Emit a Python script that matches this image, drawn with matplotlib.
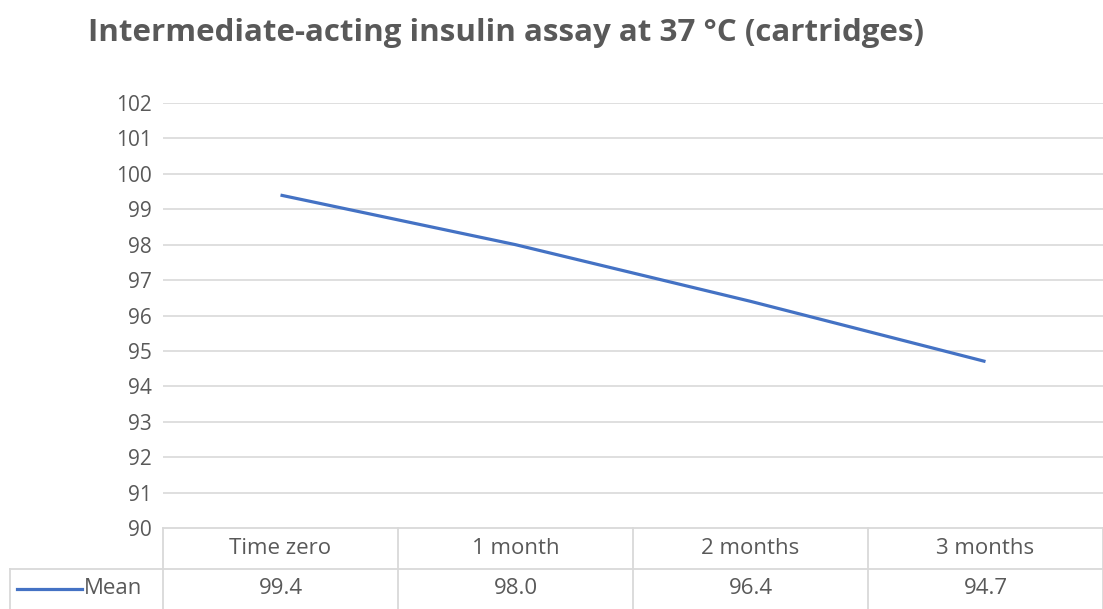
import matplotlib
matplotlib.use("Agg")
from matplotlib import pyplot as plt
from matplotlib.lines import Line2D
from matplotlib.transforms import blended_transform_factory
import numpy as np

plt.rcParams['font.family'] = ['Open Sans', 'DejaVu Sans']

categories = ['Time zero', '1 month', '2 months', '3 months']
mean_values = [99.4, 98.0, 96.4, 94.7]
series_name = 'Mean'
title = 'Intermediate-acting insulin assay at 37 °C (cartridges)'
y_ticks = list(range(90, 103))

txt = '#595959'
grid = '#d9d9d9'
blue = '#4472C4'
fs = 15
fs_tab = 16

W, H = 1103, 609
fig = plt.figure(figsize=(W / 100, H / 100), dpi=100)
ax = fig.add_axes([163 / W, 81 / H, 940 / W, 425 / H])

x = np.arange(len(categories))
ax.plot(x, mean_values, color=blue, lw=2.3, solid_capstyle='butt')
ax.set_xlim(-0.5, len(categories) - 0.5)
ax.set_ylim(90, 102)
ax.set_yticks(y_ticks)
ax.set_yticklabels([str(v) for v in y_ticks], color=txt, fontsize=fs)
ax.tick_params(axis='y', length=0, pad=8)
ax.set_xticks([])
for s in ax.spines.values():
    s.set_visible(False)
for v in y_ticks[1:]:
    ax.axhline(v, color=grid, lw=1.2, zorder=0)

# data table below the axes
ax_h = 425.0
r1 = -41 / ax_h
r2 = -81 / ax_h
tr = blended_transform_factory(ax.transData, ax.transAxes)

def hline(y0, x0, x1):
    ax.add_line(Line2D([x0, x1], [y0, y0], color=grid, lw=1.3,
                       transform=ax.transAxes, clip_on=False))

hline(0, 0, 1)
hline(r1, -153 / 940, 1)
for i in range(len(categories) + 1):
    xb = i - 0.5
    ax.add_line(Line2D([xb, xb], [0, r2], color=grid, lw=1.3,
                       transform=tr, clip_on=False))
ax.add_line(Line2D([-153 / 940, -153 / 940], [r1, r2], color=grid, lw=1.3,
                   transform=ax.transAxes, clip_on=False))

for i, (c, v) in enumerate(zip(categories, mean_values)):
    ax.text(i, r1 / 2, c, transform=tr, ha='center', va='center',
            color=txt, fontsize=fs_tab)
    ax.text(i, (r1 + r2) / 2, f'{v:.1f}', transform=tr, ha='center',
            va='center', color=txt, fontsize=fs_tab)

ym = (r1 + r2) / 2
ax.add_line(Line2D([-146 / 940, -81 / 940], [ym, ym], color=blue, lw=2.3,
                   transform=ax.transAxes, clip_on=False))
ax.text(-79 / 940, ym, series_name, transform=ax.transAxes, ha='left',
        va='center', color=txt, fontsize=fs_tab)

fig.text(88 / W, 1 - 33 / H, title, ha='left', va='center', color=txt,
         fontsize=22.5, fontweight='bold')

fig.savefig('out.png', dpi=100)
